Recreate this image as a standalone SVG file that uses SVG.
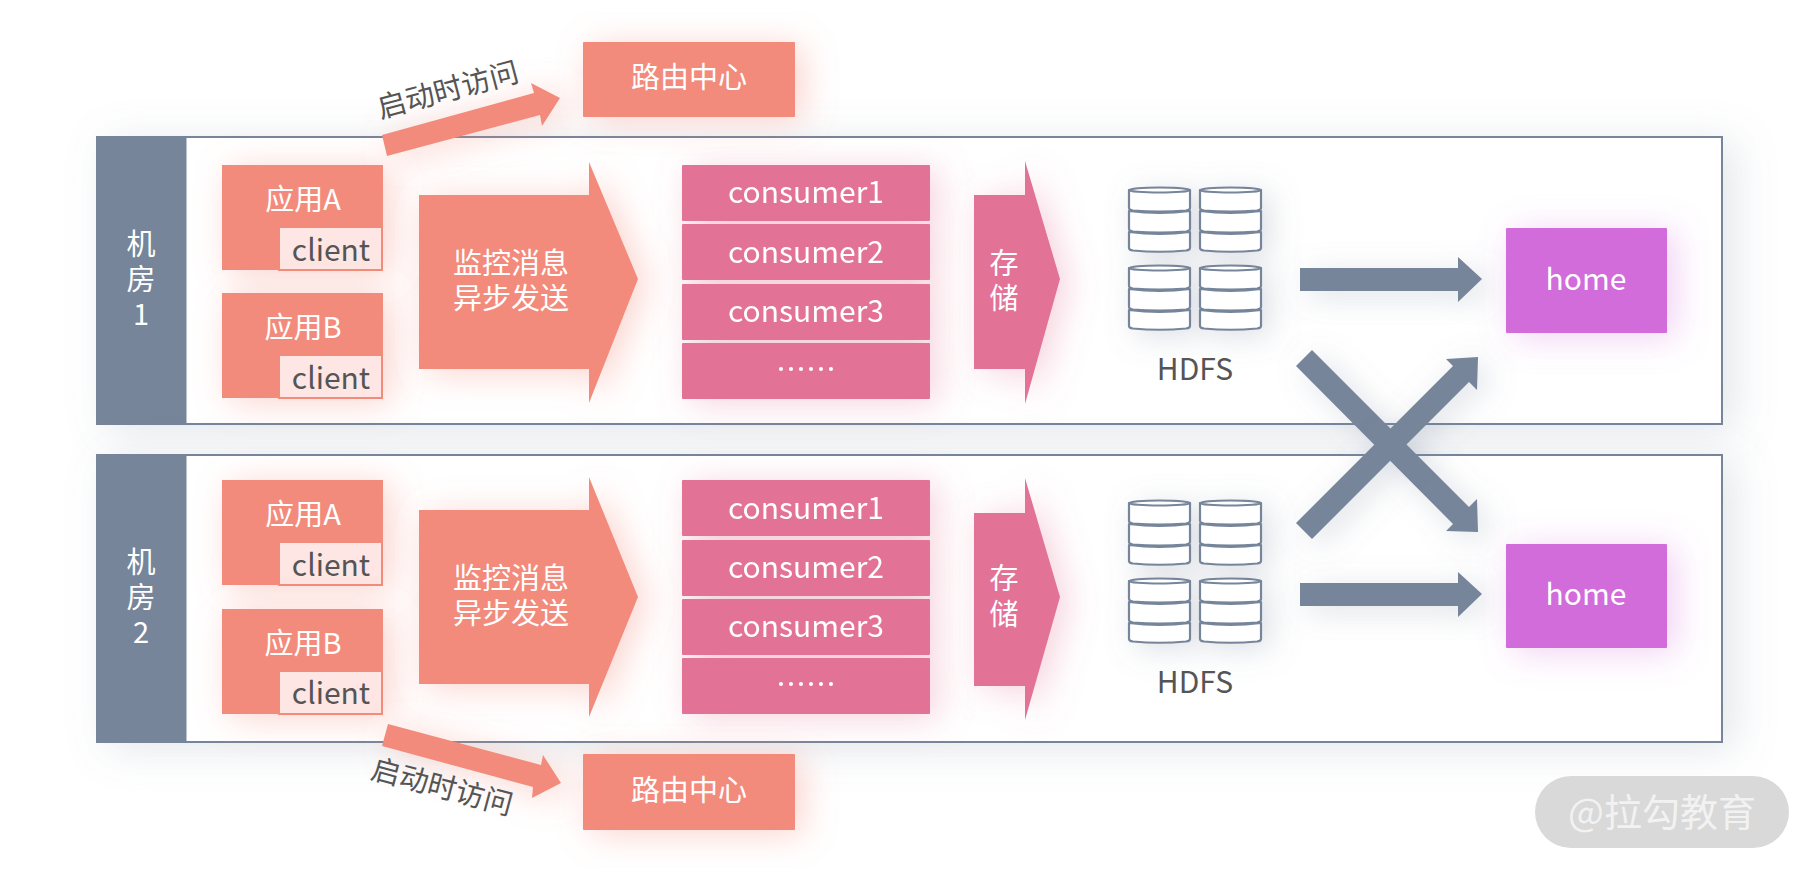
<svg xmlns="http://www.w3.org/2000/svg" width="1814" height="872" viewBox="0 0 1814 872">
<style>
text{font-family:"Noto Sans CJK SC","Noto Sans",sans-serif;font-size:29px;font-weight:400;text-anchor:middle}
.l{font-size:30px}
.w{fill:#fff}.d{fill:#555}
.room{fill:#fff;stroke:#76859a;stroke-width:2}
.side{fill:#76859a}
.sal{fill:#f38b7b}
.pink{fill:#e37297}
.pur{fill:#d36cdb}
.cl{fill:#fde6e3;stroke:#f38b7b;stroke-width:2}
.slate{fill:#76859a}
.cy{fill:#fff;stroke:#76859a;stroke-width:2.2;stroke-linejoin:round}
</style>
<defs>
<filter id="sg" x="-40%" y="-40%" width="190%" height="190%"><feDropShadow dx="8" dy="4" stdDeviation="17" flood-color="#f38b7b" flood-opacity=".38"/></filter>
<filter id="pg" x="-40%" y="-40%" width="190%" height="190%"><feDropShadow dx="8" dy="4" stdDeviation="17" flood-color="#e37297" flood-opacity=".32"/></filter>
<filter id="vg" x="-40%" y="-40%" width="190%" height="190%"><feDropShadow dx="8" dy="4" stdDeviation="17" flood-color="#d36cdb" flood-opacity=".32"/></filter>
<filter id="gg" x="-10%" y="-40%" width="120%" height="180%"><feDropShadow dx="12" dy="6" stdDeviation="20" flood-color="#76859a" flood-opacity=".2"/></filter>
<filter id="ag" x="-40%" y="-40%" width="190%" height="190%"><feDropShadow dx="8" dy="6" stdDeviation="15" flood-color="#76859a" flood-opacity=".25"/></filter>
<g id="cyl">
<path class="cy" d="M0 3V21Q0 23 4 23.500Q30.500 25.500 57 23.500Q61 23 61 21V3Z"/>
<ellipse class="cy" cx="30.500" cy="3" rx="30.500" ry="2.500"/>
<path class="cy" d="M0 24V42Q0 44 4 44.500Q30.500 46.500 57 44.500Q61 44 61 42V24Q30.500 28 0 24Z"/>
<path class="cy" d="M0 45V61Q0 63 4 63.500Q30.500 66 57 63.500Q61 63 61 61V45Q30.500 49 0 45Z"/>
</g>
<g id="dbs" filter="url(#ag)">
<use href="#cyl" x="0" y="0"/><use href="#cyl" x="71" y="0"/>
<use href="#cyl" x="0" y="78"/><use href="#cyl" x="71" y="78"/>
</g>
</defs>
<rect width="1814" height="872" fill="#fff"/>

<g id="room1"><rect class="room" x="97" y="137" width="1625" height="287" filter="url(#gg)"/><rect class="side" x="96" y="136" width="90.500" height="289"/>
<text class="w" x="141" y="255">机</text><text class="w" x="141" y="290">房</text><text class="w" x="141" y="325">1</text></g>
<g id="room2"><rect class="room" x="97" y="455" width="1625" height="287" filter="url(#gg)"/><rect class="side" x="96" y="454" width="90.500" height="289"/>
<text class="w" x="141" y="573">机</text><text class="w" x="141" y="608">房</text><text class="w" x="141" y="643">2</text></g>

<g id="route1"><rect class="sal" x="583" y="42" width="212" height="75" rx="1" filter="url(#sg)"/><text class="w" x="689" y="88">路由中心</text></g>
<g id="route2"><rect class="sal" x="583" y="754" width="212" height="76" rx="1" filter="url(#sg)"/><text class="w" x="689" y="801">路由中心</text></g>

<g id="app-a1"><rect class="sal" x="222" y="165" width="161" height="105" filter="url(#sg)"/><text class="w" x="303" y="210">应用A</text><rect class="cl" x="279" y="227" width="103" height="43"/><text class="d l" x="331" y="261">client</text></g>
<g id="app-b1"><rect class="sal" x="222" y="293" width="161" height="105" filter="url(#sg)"/><text class="w" x="303" y="338">应用B</text><rect class="cl" x="279" y="355" width="103" height="43"/><text class="d l" x="331" y="389">client</text></g>
<g id="app-a2"><rect class="sal" x="222" y="480" width="161" height="105" filter="url(#sg)"/><text class="w" x="303" y="525">应用A</text><rect class="cl" x="279" y="542" width="103" height="43"/><text class="d l" x="331" y="576">client</text></g>
<g id="app-b2"><rect class="sal" x="222" y="609" width="161" height="105" filter="url(#sg)"/><text class="w" x="303" y="654">应用B</text><rect class="cl" x="279" y="671" width="103" height="43"/><text class="d l" x="331" y="704">client</text></g>

<g id="send1"><path class="sal" d="M419 195H589V162L638 279L589 403V369H419Z" filter="url(#sg)"/><text class="w" x="511" y="274">监控消息</text><text class="w" x="511" y="309">异步发送</text></g>
<g id="send2"><path class="sal" d="M419 510H589V477L638 597L589 717V684H419Z" filter="url(#sg)"/><text class="w" x="511" y="589">监控消息</text><text class="w" x="511" y="624">异步发送</text></g>

<g id="consumers1" filter="url(#pg)">
<rect class="pink" x="682" y="165" width="248" height="56" rx="1"/><rect class="pink" x="682" y="224" width="248" height="56" rx="1"/><rect class="pink" x="682" y="284" width="248" height="56" rx="1"/><rect class="pink" x="682" y="343" width="248" height="56" rx="1"/>
<text class="w l" x="806" y="203">consumer1</text><text class="w l" x="806" y="263">consumer2</text><text class="w l" x="806" y="322">consumer3</text><text class="w l" x="806" y="380">……</text></g>
<g id="consumers2" filter="url(#pg)">
<rect class="pink" x="682" y="480" width="248" height="56" rx="1"/><rect class="pink" x="682" y="540" width="248" height="56" rx="1"/><rect class="pink" x="682" y="599" width="248" height="56" rx="1"/><rect class="pink" x="682" y="658" width="248" height="56" rx="1"/>
<text class="w l" x="806" y="519">consumer1</text><text class="w l" x="806" y="578">consumer2</text><text class="w l" x="806" y="637">consumer3</text><text class="w l" x="806" y="695">……</text></g>

<g id="store1"><path class="pink" d="M974 195H1025V161L1060 279L1025 404V369H974Z" filter="url(#pg)"/><text class="w" x="1004" y="274">存</text><text class="w" x="1004" y="309">储</text></g>
<g id="store2"><path class="pink" d="M974 513H1025V478L1060 597L1025 720V686H974Z" filter="url(#pg)"/><text class="w" x="1004" y="589">存</text><text class="w" x="1004" y="625">储</text></g>

<g id="hdfs1"><use href="#dbs" x="1129" y="187"/><text class="d l" x="1195" y="380">HDFS</text></g>
<g id="hdfs2"><use href="#dbs" x="1129" y="500"/><text class="d l" x="1195" y="693">HDFS</text></g>

<g id="home1"><rect class="pur" x="1506" y="228" width="161" height="105" rx="1" filter="url(#vg)"/><text class="w l" x="1586" y="290">home</text></g>
<g id="home2"><rect class="pur" x="1506" y="544" width="161" height="104" rx="1" filter="url(#vg)"/><text class="w l" x="1586" y="605">home</text></g>

<g id="connectors">
<path class="sal" d="M382 135L534 93L531 83L560 98L542 126L540 115L387 156Z" filter="url(#sg)"/>
<path class="sal" d="M388 724L541 765L543 755L561 783L532 798L533 787L382 746Z" filter="url(#sg)"/>
<path class="slate" d="M1300 268H1458V257L1482 279L1458 302V291H1300Z" filter="url(#ag)"/>
<path class="slate" d="M1300 583H1458V572L1482 594L1458 617V606H1300Z" filter="url(#ag)"/>
<path class="slate" d="M1312 350L1469 507L1477 499L1478 532L1446 531L1453 524L1296 366Z" filter="url(#ag)"/>
<path class="slate" d="M1296 523L1453 366L1446 359L1478 357L1477 390L1469 382L1312 539Z" filter="url(#ag)"/>
</g>
<text class="d" transform="translate(448 90) rotate(-15)" x="0" y="10">启动时访问</text>
<text class="d" transform="translate(442 787) rotate(15)" x="0" y="10">启动时访问</text>

<g id="watermark"><rect x="1535" y="776" width="254" height="72" rx="36" fill="#d9d9d9"/><text x="1662" y="826" style="font-size:38px" fill="#f2f2f2">@拉勾教育</text></g>
</svg>
